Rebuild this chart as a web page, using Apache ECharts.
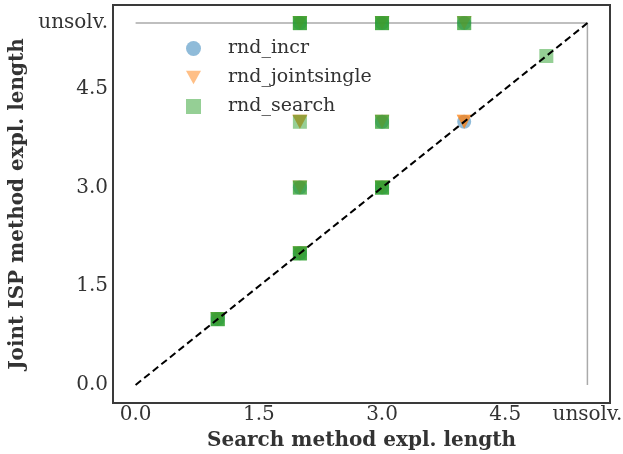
<!DOCTYPE html>
<html>
<head>
<meta charset="utf-8">
<script src="https://cdn.jsdelivr.net/npm/echarts@6/dist/echarts.min.js"></script>
<style>html,body{margin:0;padding:0;background:#fff}#c{width:623px;height:454px}</style>
</head>
<body>
<div id="c"></div>
<script>
// Tick positions and labels (5.5 stands for "unsolv.")
const tickValues = [0, 1.5, 3.0, 4.5, 5.5];
const tickLabels = ['0.0', '1.5', '3.0', '4.5', 'unsolv.'];
const UNSOLVED = 5.5;

// Series values (search method length, joint ISP length); repeated points stack darker
const incrX = [1, 2, 2, 3, 3, 4, 2, 3, 4];
const incrY = [1, 2, 3, 3, 4, 4, 5.5, 5.5, 5.5];

const jointX = [1, 2, 2, 3, 2, 2, 3, 4, 4, 2, 3, 4];
const jointY = [1, 2, 3, 3, 4, 4, 4, 4, 4, 5.5, 5.5, 5.5];

const searchX = [1, 1, 1, 2, 2, 2, 3, 3, 3, 2, 2, 3, 3, 2, 5, 2, 2, 2, 3, 3, 3, 4, 4];
const searchY = [1, 1, 1, 2, 2, 2, 3, 3, 3, 3, 3, 4, 4, 4, 5, 5.5, 5.5, 5.5, 5.5, 5.5, 5.5, 5.5, 5.5];

const seriesNames = ['rnd_incr', 'rnd_jointsingle', 'rnd_search'];

function pairs(xs, ys) { return xs.map((x, i) => [x, ys[i]]); }

const FONT = 'DejaVu Serif';
const downTri = 'path://M0,0 L10,0 L5,9 Z';

const axisCommon = {
  type: 'value',
  min: -0.275,
  max: 5.775,
  splitLine: { show: false },
  axisTick: { show: false },
  axisLine: { show: false },
  nameLocation: 'middle',
  nameTextStyle: { fontFamily: FONT, fontWeight: 'bold', fontSize: 20, color: '#333' },
  axisLabel: {
    customValues: tickValues,
    fontFamily: FONT, fontSize: 20, color: '#333',
    formatter: v => { const i = tickValues.findIndex(t => Math.abs(t - v) < 1e-9); return i >= 0 ? tickLabels[i] : ''; }
  }
};

const chart = echarts.init(document.getElementById('c'));
chart.setOption({
  animation: false,
  grid: { left: 113, right: 13, top: 5, bottom: 51, show: true, borderColor: '#3a3a3a', borderWidth: 2,
          backgroundColor: 'transparent', containLabel: false, outerBoundsMode: 'none' },
  xAxis: Object.assign({}, axisCommon, {
    name: 'Search method expl. length', nameGap: 28,
    axisLabel: Object.assign({}, axisCommon.axisLabel, { margin: 2 })
  }),
  yAxis: Object.assign({}, axisCommon, {
    name: 'Joint ISP method expl. length', nameGap: 84,
    axisLabel: Object.assign({}, axisCommon.axisLabel, { margin: 5 })
  }),
  legend: {
    orient: 'vertical', left: 181, top: 34, itemWidth: 15, itemHeight: 15, itemGap: 10,
    textStyle: { fontFamily: FONT, fontSize: 19, color: '#333', padding: [0, 0, 0, 22] },
    data: [
      { name: seriesNames[0], icon: 'circle' },
      { name: seriesNames[1], icon: downTri },
      { name: seriesNames[2], icon: 'rect' }
    ]
  },
  series: [
    { type: 'line', data: [[0, UNSOLVED], [UNSOLVED, UNSOLVED], [UNSOLVED, 0]], symbol: 'none', silent: true,
      lineStyle: { color: '#aaaaaa', width: 1.5 }, z: 1 },
    { type: 'line', data: [[0, 0], [UNSOLVED, UNSOLVED]], symbol: 'none', silent: true,
      lineStyle: { color: '#000', width: 2, type: [7, 4] }, z: 10 },
    { name: seriesNames[0], type: 'scatter', data: pairs(incrX, incrY), symbol: 'circle', symbolSize: 14,
      itemStyle: { color: '#1f77b4', opacity: 0.5 }, z: 2 },
    { name: seriesNames[1], type: 'scatter', data: pairs(jointX, jointY), symbol: downTri, symbolSize: [15, 14],
      itemStyle: { color: '#ff7f0e', opacity: 0.5 }, z: 3 },
    { name: seriesNames[2], type: 'scatter', data: pairs(searchX, searchY), symbol: 'rect', symbolSize: 14,
      itemStyle: { color: '#2ca02c', opacity: 0.5 }, z: 4 }
  ]
});
</script>
</body>
</html>
